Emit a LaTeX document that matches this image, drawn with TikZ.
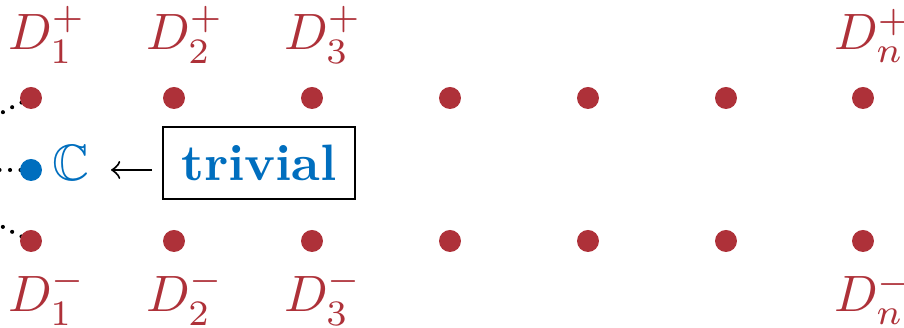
\documentclass[tikz,border=0pt]{standalone}
\usepackage{amssymb}
\definecolor{dred}{RGB}{174,49,57}
\definecolor{dblue}{RGB}{0,110,190}
\begin{document}
\begin{tikzpicture}[x=0.1955pt,y=-0.1955pt,
  rdot/.style={circle,fill=dred,inner sep=0pt,minimum size=4.3pt},
  bdot/.style={circle,fill=dblue,inner sep=0pt,minimum size=4.3pt},
  dlab/.style={text=dred,anchor=base west,inner sep=0pt},
  dots/.style={line width=0.8pt,line cap=round,dash pattern=on 0pt off 2.05pt}]
\useasboundingbox (0,0) rectangle (904,328);
% dotted connectors (cut off at the left edge)
\coordinate (src) at (-60,170);
\coordinate (pa) at (31,98);
\coordinate (pc) at (31,170);
\coordinate (pb) at (31,241);
\draw[dots] (pa) to[out=205,in=55] (src);
\draw[dots] (pc) -- (src);
\draw[dots] (pb) to[out=155,in=-55] (src);
% dots
\foreach \i/\x in {1/31,2/174,3/312,4/450,5/588,6/726,7/863}{
  \node[rdot] (t\i) at (\x,98) {};
  \node[rdot] (b\i) at (\x,241) {};
}
\node[bdot] (c) at (pc) {};
% labels
\node[dlab] (l1p) at (7,50) {$D_1^+$};
\node[dlab] (l2p) at (145,50) {$D_2^+$};
\node[dlab] (l3p) at (283,50) {$D_3^+$};
\node[dlab] (lnp) at (833,50) {$D_n^+$};
\node[dlab] (l1m) at (7,312) {$D_1^-$};
\node[dlab] (l2m) at (145,312) {$D_2^-$};
\node[dlab] (l3m) at (283,312) {$D_3^-$};
\node[dlab] (lnm) at (833,312) {$D_n^-$};
\node[text=dblue,anchor=base west,inner sep=0pt] (cc) at (51,181) {$\mathbb{C}$};
% trivial box
\node[draw=black,line width=0.4pt,minimum width=37.5pt,minimum height=14.1pt,inner sep=0pt,text=dblue,font=\bfseries] (triv) at (259,163) {trivial};
\coordinate (atip) at (111,170);
\draw[->,shorten <=1.95pt] (triv.west |- pc) -- (atip);
\end{tikzpicture}
\end{document}
